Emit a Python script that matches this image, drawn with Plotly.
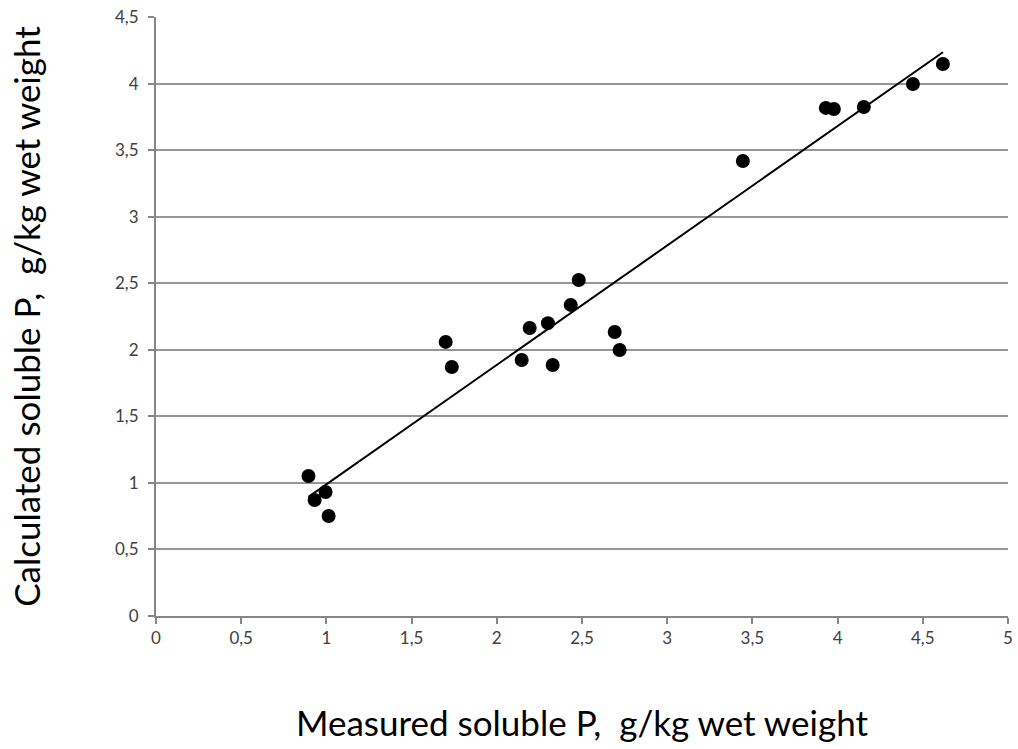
import numpy as np
import plotly.graph_objects as go

measured = [0.895, 0.931, 0.995, 1.013, 1.700, 1.736, 2.146, 2.193, 2.300, 2.328,
            2.434, 2.481, 2.692, 2.721, 3.444, 3.931, 3.978, 4.154, 4.442, 4.618]
calculated = [1.052, 0.872, 0.932, 0.751, 2.059, 1.871, 1.923, 2.164, 2.200, 1.886,
              2.337, 2.524, 2.134, 1.998, 3.418, 3.817, 3.809, 3.824, 3.997, 4.147]

x_ticks = [0, 0.5, 1, 1.5, 2, 2.5, 3, 3.5, 4, 4.5, 5]
y_ticks = [0, 0.5, 1, 1.5, 2, 2.5, 3, 3.5, 4, 4.5]

slope, intercept = np.polyfit(measured, calculated, 1)
line_x = [min(measured), max(measured)]
line_y = [slope * v + intercept for v in line_x]

fig = go.Figure()
fig.add_trace(go.Scatter(x=measured, y=calculated, mode="markers",
                         marker=dict(color="black", size=14), showlegend=False))
fig.add_trace(go.Scatter(x=line_x, y=line_y, mode="lines",
                         line=dict(color="black", width=2), showlegend=False))

font_family = "Lato, 'Open Sans', sans-serif"
fig.update_layout(
    width=1018, height=749,
    margin=dict(l=156, r=5, t=17, b=133),
    paper_bgcolor="white", plot_bgcolor="white",
    separators=",.",
    font=dict(family=font_family, color="#000000", size=17),
    xaxis=dict(range=[0, 5], tickvals=x_ticks, showgrid=False, zeroline=False,
               showline=True, linecolor="#868686", linewidth=2,
               ticks="outside", ticklen=6, tickcolor="#868686", tickwidth=2,
               tickfont=dict(size=17, color="#404040"),
               title=dict(text="Measured soluble P,\u00a0\u00a0g/kg wet weight",
                          font=dict(size=35, color="#000000"), standoff=64)),
    yaxis=dict(range=[0, 4.5], tickvals=y_ticks, showgrid=True, gridcolor="#969696",
               gridwidth=2, zeroline=False,
               showline=True, linecolor="#868686", linewidth=2,
               ticks="outside", ticklen=6, tickcolor="#868686", tickwidth=2,
               ticklabelstandoff=6,
               tickfont=dict(size=17, color="#404040"),
               title=dict(text="Calculated soluble P,\u00a0\u00a0g/kg wet weight",
                          font=dict(size=35, color="#000000"), standoff=64)),
)

fig.write_html("out.html")
